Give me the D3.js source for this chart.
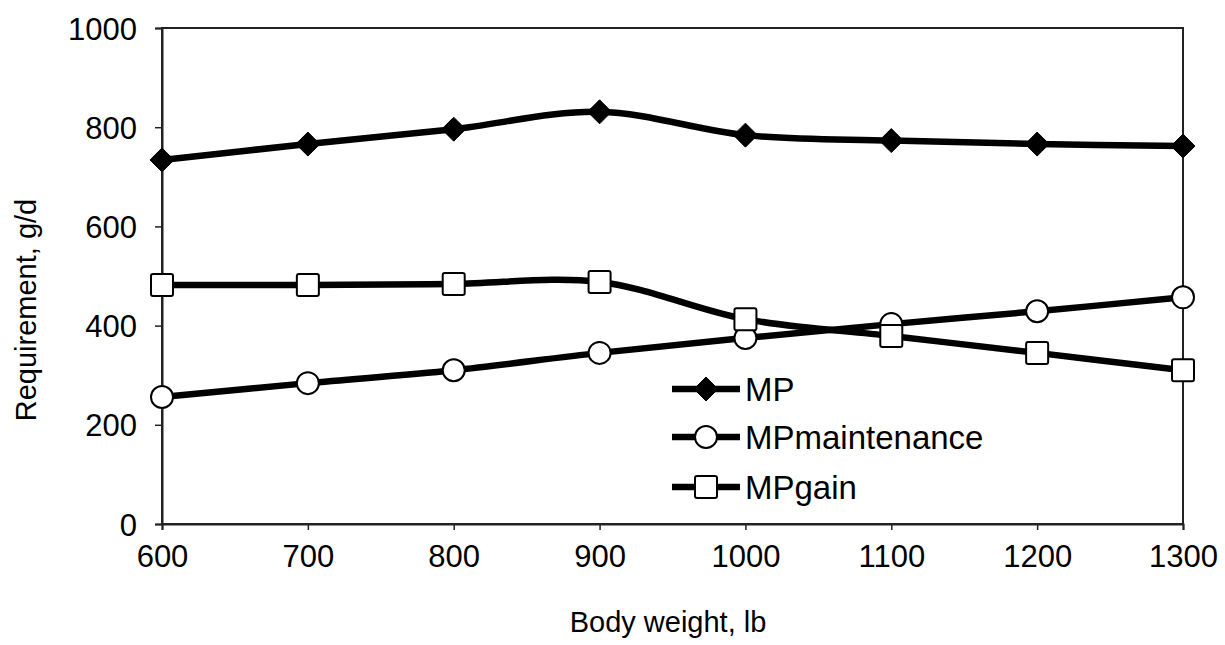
<!DOCTYPE html>
<html>
<head>
<meta charset="utf-8">
<script src="https://cdn.jsdelivr.net/npm/d3@7"></script>
<style>
  body { margin: 0; background: #fff; }
  text { font-family: "Liberation Sans", Arial, sans-serif; fill: #000; }
</style>
</head>
<body>
<svg id="chart" width="1225" height="645"></svg>
<script>
var weights = [600, 700, 800, 900, 1000, 1100, 1200, 1300];
var mp = [734, 766, 796, 831, 784, 773, 766, 762];
var mpMaintenance = [256, 284, 310, 345, 375, 403, 429, 457];
var mpGain = [482, 482, 484, 488, 413, 379, 345, 310];
var yTicks = [0, 200, 400, 600, 800, 1000];

var series = [
  { name: 'MP', values: mp, marker: 'diamond' },
  { name: 'MPmaintenance', values: mpMaintenance, marker: 'circle' },
  { name: 'MPgain', values: mpGain, marker: 'square' }
];

var svg = d3.select('#chart');

var x = d3.scaleLinear().domain([600, 1300]).range([162, 1183]);
var y = d3.scaleLinear().domain([0, 1000]).range([524, 28]);

// frame
svg.append('rect')
  .attr('x', x(600)).attr('y', y(1000))
  .attr('width', x(1300) - x(600)).attr('height', y(0) - y(1000))
  .attr('fill', 'none').attr('stroke', '#222').attr('stroke-width', 2);

var yAxis = svg.append('g')
  .attr('transform', 'translate(' + x(600) + ',0)')
  .call(d3.axisLeft(y).tickValues(yTicks).tickFormat(d3.format('d')).tickSize(7).tickPadding(18));
var xAxis = svg.append('g')
  .attr('transform', 'translate(0,' + y(0) + ')')
  .call(d3.axisBottom(x).tickValues(weights).tickFormat(d3.format('d')).tickSize(6).tickPadding(15));

[yAxis, xAxis].forEach(function(a) {
  a.select('.domain').attr('stroke', '#222').attr('stroke-width', 2);
  a.selectAll('.tick line').attr('stroke', '#222').attr('stroke-width', 1.5);
  a.selectAll('.tick text')
    .style('font-family', '"Liberation Sans", Arial, sans-serif')
    .style('font-size', '31px').attr('fill', '#000');
});
yAxis.selectAll('.tick text').attr('dy', '0.36em');

// axis titles
svg.append('text')
  .attr('transform', 'translate(36,' + 310 + ') rotate(-90)')
  .attr('text-anchor', 'middle')
  .style('font-size', '29px')
  .text('Requirement, g/d');

svg.append('text')
  .attr('x', 668).attr('y', 632)
  .attr('text-anchor', 'middle')
  .style('font-size', '29px')
  .text('Body weight, lb');

var line = d3.line()
  .x(function(d, i) { return x(weights[i]); })
  .y(function(d) { return y(d); })
  .curve(d3.curveCatmullRom.alpha(0.5));

function drawMarker(g, type, cx, cy) {
  if (type === 'diamond') {
    g.append('path')
      .attr('d', 'M' + cx + ',' + (cy - 12) + 'L' + (cx + 12) + ',' + cy +
        'L' + cx + ',' + (cy + 12) + 'L' + (cx - 12) + ',' + cy + 'Z')
      .attr('fill', '#000').attr('stroke', '#000').attr('stroke-width', 1)
      .attr('stroke-linejoin', 'round');
  } else if (type === 'circle') {
    g.append('circle')
      .attr('cx', cx).attr('cy', cy).attr('r', 11)
      .attr('fill', '#fff').attr('stroke', '#000').attr('stroke-width', 2);
  } else {
    g.append('rect')
      .attr('x', cx - 11).attr('y', cy - 11)
      .attr('width', 22).attr('height', 22).attr('rx', 2)
      .attr('fill', '#fff').attr('stroke', '#000').attr('stroke-width', 2);
  }
}

// lines first, then markers
series.forEach(function(s) {
  svg.append('path')
    .datum(s.values)
    .attr('d', line)
    .attr('fill', 'none')
    .attr('stroke', '#000')
    .attr('stroke-width', 6.5);
});
series.forEach(function(s) {
  var g = svg.append('g');
  s.values.forEach(function(v, i) {
    drawMarker(g, s.marker, x(weights[i]), y(v));
  });
});

// legend
var legendY = [389, 437, 487];
series.forEach(function(s, i) {
  var g = svg.append('g');
  g.append('line')
    .attr('x1', 672).attr('x2', 740)
    .attr('y1', legendY[i]).attr('y2', legendY[i])
    .attr('stroke', '#000').attr('stroke-width', 6.5);
  drawMarker(g, s.marker, 706, legendY[i]);
  g.append('text')
    .attr('x', 745).attr('y', legendY[i])
    .attr('dy', '0.36em')
    .style('font-size', '33px')
    .text(s.name);
});
</script>
</body>
</html>
